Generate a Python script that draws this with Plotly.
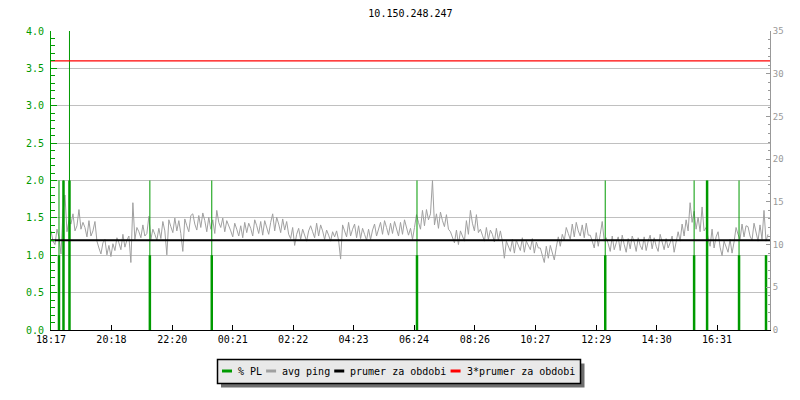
import plotly.graph_objects as go

# ---------------- data ----------------
title_text = "10.150.248.247"
tick_labels = ["18:17", "20:18", "22:20", "00:21", "02:22", "04:23",
               "06:24", "08:26", "10:27", "12:29", "14:30", "16:31"]
sample_step_min = 4  # avg ping sampled every 4 minutes from 18:17

ping_ms = [
    11.6, 10.4, 10.0, 11.8,
    10.9, 8.9, 13.8, 15.8,
    11.5, 12.8,
    12.4, 13.6, 11.6, 12.2, 14.1, 11.8,
    12.6, 12.0, 10.9, 12.8, 11.0, 11.6, 12.7,
    10.4, 9.6, 8.9, 10.2, 10.6, 8.8, 9.9, 8.6, 10.1, 9.3,
    10.8, 10.2, 9.4, 11.2, 9.7, 10.5, 11.0, 7.9, 14.9, 10.6,
    12.0, 11.5, 10.8, 12.3, 11.0, 11.3, 13.3,
    10.6, 11.8, 11.2, 10.5, 11.9, 10.7,
    12.7, 11.6, 8.8,
    12.9, 12.1, 11.4, 13.1, 11.6, 12.8, 11.3,
    9.2, 13.0, 12.2, 11.5, 13.4,
    13.6, 12.4, 11.7, 13.4, 12.0, 13.7, 12.8, 11.5, 13.2, 11.8,
    12.9, 11.3, 14.0, 12.6, 12.0, 13.1, 11.5, 12.8,
    12.3, 11.6, 10.9, 12.5, 11.8, 11.0, 12.2, 10.8, 12.6, 11.4,
    12.5, 11.9, 11.0, 12.9, 12.2, 11.3, 12.7, 11.1, 12.8, 12.0, 11.2, 12.6, 13.6,
    11.6, 13.2, 12.4, 11.4, 13.0, 11.7, 12.7, 11.2,
    10.7, 12.0, 9.9, 11.2, 11.9, 10.6, 11.8, 11.1, 10.4, 11.6,
    12.2, 11.5, 10.8, 12.5, 11.0, 12.3, 11.6,
    10.6, 11.7, 11.1, 10.4, 11.5, 10.9, 11.6, 10.5, 8.3,
    12.3, 11.6, 10.9, 12.6, 11.0, 11.8, 12.4, 10.8, 12.2,
    10.7, 11.9, 11.2, 10.5, 11.8, 10.6, 11.7,
    12.4, 11.0, 11.7, 12.6, 11.2, 12.8, 12.0, 11.1, 12.5, 11.3, 12.7, 11.9, 11.0, 12.6, 11.2, 12.9, 11.8, 11.1,
    11.9, 10.6, 12.0,
    13.5, 12.6, 11.8, 14.0, 12.2, 14.1, 12.9, 13.6,
    17.5,
    12.3, 13.6, 11.9, 13.8, 12.8, 12.1, 13.5, 11.8,
    11.5, 10.8, 10.2, 11.7, 10.0, 11.6, 10.9, 10.4,
    12.8, 11.2, 14.0, 12.5, 11.6, 13.5, 11.4,
    11.8, 11.1, 10.4, 12.0, 10.6, 11.7, 11.2, 10.3, 11.9, 10.5, 11.6, 10.4,
    8.4, 10.4, 9.8, 9.2, 10.6, 9.0, 10.5, 9.9, 9.3, 10.8, 9.1, 10.4, 9.8, 9.4, 10.7, 9.0, 10.3, 9.6,
    9.6, 8.8, 7.9, 9.8, 8.4, 9.9, 9.1, 8.2, 9.7,
    10.9, 9.8, 11.2, 10.5,
    12.0, 11.3, 10.6, 12.4, 10.9, 12.6, 11.6, 11.0, 12.3, 10.8, 12.5, 11.1,
    11.1, 10.4, 9.6, 11.4, 9.8, 11.2, 12.7, 10.4,
    10.8, 10.1, 9.2, 11.0, 9.4, 10.2, 10.9, 9.3, 11.1, 10.0, 9.1, 10.7, 9.5, 11.0,
    10.3, 9.2, 10.8, 9.9, 9.4, 10.9, 9.3, 10.4, 11.1, 9.5, 10.8, 9.8, 9.2, 11.2, 10.1, 9.4, 10.7, 9.6, 10.2, 11.0, 9.1, 10.5,
    11.5, 10.4, 12.4, 11.0, 12.9, 11.6,
    14.9, 12.6, 13.9,
    11.8, 13.2, 11.5,
    14.4, 11.6,
    12.0, 10.8, 9.8, 11.8, 9.6, 10.9, 11.5, 9.7,
    8.7, 10.4, 9.7, 9.1, 10.6, 9.0, 10.3,
    12.0, 11.2, 10.6, 12.4, 10.9, 12.2,
    12.1, 11.0, 10.5, 12.5, 11.3, 10.4, 12.3, 10.6,
    14.0,
    10.4, 11.2,
]

# packet-loss events (minutes after 18:17), peak value and base (heavy) value
pl_minutes = [16, 25, 37, 198, 322, 733, 1110, 1288, 1314, 1378, 1432]
pl_peak = [2, 2, 4, 2, 2, 2, 2, 2, 2, 2, 1]
pl_base = [1, 2, 2, 1, 1, 1, 1, 1, 2, 1, 1]

avg_period_ms = 10.5
series_names = ["% PL", "avg ping", "prumer za obdobi", "3*prumer za obdobi"]
series_colors = ["#009a00", "#a0a0a0", "#000000", "#ff0000"]

# ---------------- derived ----------------
def label_to_min(lbl, start="18:17"):
    h, m = map(int, lbl.split(":"))
    sh, sm = map(int, start.split(":"))
    return ((h * 60 + m) - (sh * 60 + sm)) % 1440

tick_vals = [label_to_min(t) for t in tick_labels]
ping_minutes = [i * sample_step_min for i in range(len(ping_ms))]
x_end = 1440


def impulses(xs, ys):
    ox, oy = [], []
    for x, y in zip(xs, ys):
        ox += [x, x, None]
        oy += [0, y, None]
    return ox, oy

MONO = "DejaVu Sans Mono"
fig = go.Figure()

# avg ping (right axis, ms)
fig.add_trace(go.Scatter(x=ping_minutes, y=ping_ms, mode="lines", name=series_names[1],
                         line=dict(color=series_colors[1], width=1), yaxis="y",
                         showlegend=False))
# packet loss impulses (left axis)
px_, py_ = impulses(pl_minutes, pl_peak)
fig.add_trace(go.Scatter(x=px_, y=py_, mode="lines", name=series_names[0],
                         line=dict(color=series_colors[0], width=1), yaxis="y2",
                         showlegend=False))
bx_, by_ = impulses(pl_minutes, pl_base)
fig.add_trace(go.Scatter(x=bx_, y=by_, mode="lines", name=series_names[0],
                         line=dict(color=series_colors[0], width=2.5), yaxis="y2",
                         showlegend=False))
# mean lines
fig.add_trace(go.Scatter(x=[0, x_end], y=[avg_period_ms, avg_period_ms], mode="lines",
                         name=series_names[2], line=dict(color=series_colors[2], width=2),
                         yaxis="y3", showlegend=False))
fig.add_trace(go.Scatter(x=[0, x_end], y=[3 * avg_period_ms, 3 * avg_period_ms], mode="lines",
                         name=series_names[3], line=dict(color=series_colors[3], width=1.2),
                         yaxis="y3", showlegend=False))

L, R, T, B = 51, 770, 31, 330
def xp(px):
    return (px - L) / (R - L)
def yp(py):
    return (B - py) / (B - T)

shapes = [
    dict(type="rect", xref="paper", yref="paper", x0=xp(221), x1=xp(584.5),
         y0=yp(387.5), y1=yp(363.5), fillcolor="#6e6e6e", line=dict(width=0)),
    dict(type="rect", xref="paper", yref="paper", x0=xp(217.5), x1=xp(580.5),
         y0=yp(383.5), y1=yp(359.5), fillcolor="#e9e9e9", line=dict(color="#000000", width=1.5)),
]
annotations = []
cx = 222
for name, col in zip(series_names, series_colors):
    shapes.append(dict(type="line", xref="paper", yref="paper", x0=xp(cx), x1=xp(cx + 10),
                       y0=yp(371), y1=yp(371), line=dict(color=col, width=3)))
    annotations.append(dict(text=name, xref="paper", yref="paper", x=xp(cx + 14), y=yp(371),
                            xanchor="left", yanchor="middle", showarrow=False,
                            font=dict(family=MONO, size=10, color="#000000")))
    cx += 10 + 4 + len(name) * 6.02 + 6

fig.update_layout(
    width=800, height=400,
    margin=dict(l=L, r=800 - R, t=T, b=400 - B, autoexpand=False),
    paper_bgcolor="white", plot_bgcolor="white",
    title=dict(text=title_text, x=0.5, xref="paper", y=1 - 13 / 400, yref="container",
               xanchor="center", yanchor="middle", automargin=False,
               font=dict(family=MONO, size=10, color="#000000")),
    showlegend=False,
    shapes=shapes, annotations=annotations,
    xaxis=dict(range=[0, x_end], tickvals=tick_vals, ticktext=tick_labels, automargin=False,
               ticks="inside", ticklen=5, tickcolor="#000000", showline=True,
               linecolor="#000000", linewidth=1, showgrid=False, zeroline=False,
               tickfont=dict(family=MONO, size=10, color="#000000")),
    yaxis=dict(range=[0, 35], side="right", dtick=5, ticks="inside", ticklen=4, automargin=False,
               tickcolor="#999999", showline=True, linecolor="#999999", linewidth=1,
               showgrid=False, zeroline=False,
               minor=dict(ticks="inside", dtick=1, ticklen=2, tickcolor="#999999"),
               tickfont=dict(family=MONO, size=9, color="#999999")),
    yaxis2=dict(range=[0, 4], side="left", overlaying="y", dtick=0.5, tickformat=".1f",
                automargin=False,
                ticks="inside", ticklen=6, tickcolor="#009a00", showline=True,
                linecolor="#009a00", linewidth=1, showgrid=True, gridcolor="#c0c0c0",
                gridwidth=1, zeroline=False, ticklabelstandoff=4,
                minor=dict(ticks="inside", dtick=0.1, ticklen=4, tickcolor="#009a00"),
                tickfont=dict(family=MONO, size=10, color="#009a00")),
    yaxis3=dict(range=[0, 35], overlaying="y", visible=False, automargin=False),
)

fig.write_html("out.html", config={"displayModeBar": False},
               post_script="document.body.style.margin='0';")
